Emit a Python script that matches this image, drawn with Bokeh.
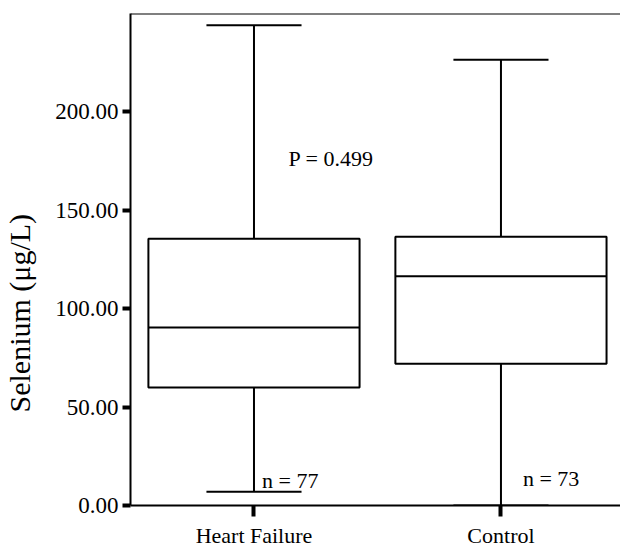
from bokeh.plotting import figure
from bokeh.models import Range1d, FixedTicker, NumeralTickFormatter, Span, Title, CustomJSTickFormatter
from bokeh.core.properties import value
from bokeh.embed import file_html
from bokeh.resources import INLINE

# ---- data ----
categories = ["Heart Failure", "Control"]
q_min = [7.0, 0.0]
q1 = [60.0, 72.0]
median = [90.5, 116.5]
q3 = [135.5, 136.5]
q_max = [244.0, 226.5]
n_labels = ["n = 77", "n = 73"]
n_label_y = [12.5, 13.5]
p_label = "P = 0.499"
y_ticks = [0, 50, 100, 150, 200]

FONT = "Liberation Serif"
BOX_W = 0.855
CAP_W = 0.385

xs = [i + 0.5 for i in range(len(categories))]

p = figure(width=620, height=550,
           x_range=Range1d(0, 1.984), y_range=Range1d(0, 250),
           output_backend="svg", toolbar_location=None,
           min_border_left=130, min_border_top=13,
           min_border_right=0, min_border_bottom=43)
p.outline_line_color = None
p.grid.visible = False
p.background_fill_color = "white"

# whiskers
p.segment(x0=xs, y0=q3, x1=xs, y1=q_max, line_color="black", line_width=2)
p.segment(x0=xs, y0=q1, x1=xs, y1=q_min, line_color="black", line_width=2)
p.segment(x0=[x - CAP_W / 2 for x in xs], y0=q_max,
          x1=[x + CAP_W / 2 for x in xs], y1=q_max, line_color="black", line_width=2)
p.segment(x0=[x - CAP_W / 2 for x in xs], y0=q_min,
          x1=[x + CAP_W / 2 for x in xs], y1=q_min, line_color="black", line_width=2)
# boxes
p.vbar(x=xs, width=BOX_W, bottom=q1, top=q3, fill_color="white",
       line_color="black", line_width=2)
p.segment(x0=[x - BOX_W / 2 for x in xs], y0=median,
          x1=[x + BOX_W / 2 for x in xs], y1=median, line_color="black", line_width=2)

# annotations
p.text(x=xs, y=n_label_y, text=n_labels, x_offset=[8, 22],
       text_font=value(FONT), text_font_size="22px", text_color="black",
       text_align="left", text_baseline="alphabetic")
p.text(x=[0.64], y=[176.5], text=[p_label],
       text_font=value(FONT), text_font_size="22px", text_color="black",
       text_align="left", text_baseline="middle")

p.add_layout(Span(location=250, dimension="width", line_color="black", line_width=2))
p.add_layout(Title(text="Selenium (\u03bcg/L)", align="left", offset=93,
                   vertical_align="top",
                   text_font=FONT, text_font_size="30px", text_font_style="normal",
                   text_color="black", standoff=0), "left")

# axes
ya = p.yaxis[0]
ya.ticker = FixedTicker(ticks=y_ticks)
ya.formatter = NumeralTickFormatter(format="0.00")
ya.axis_line_width = 2
ya.major_tick_line_width = 4
ya.major_tick_out = 8
ya.major_tick_in = 0
ya.minor_tick_line_color = None
ya.major_label_text_font = FONT
ya.major_label_text_font_size = "23px"
ya.major_label_text_color = "black"
ya.major_label_standoff = 4
# invisible spacer between tick labels and the title
ya.axis_label = " "
ya.axis_label_text_font_size = "1px"
ya.axis_label_standoff = 11

xa = p.xaxis[0]
xa.ticker = FixedTicker(ticks=xs)
xa.formatter = CustomJSTickFormatter(args=dict(cats=categories),
                                     code="return cats[Math.floor(tick)];")
xa.axis_line_width = 2
xa.major_tick_line_width = 4
xa.major_tick_out = 11
xa.major_tick_in = 0
xa.minor_tick_line_color = None
xa.major_label_text_font = FONT
xa.major_label_text_font_size = "22px"
xa.major_label_text_color = "black"
xa.major_label_standoff = 6

open("out.html", "w").write(file_html(p, INLINE))
